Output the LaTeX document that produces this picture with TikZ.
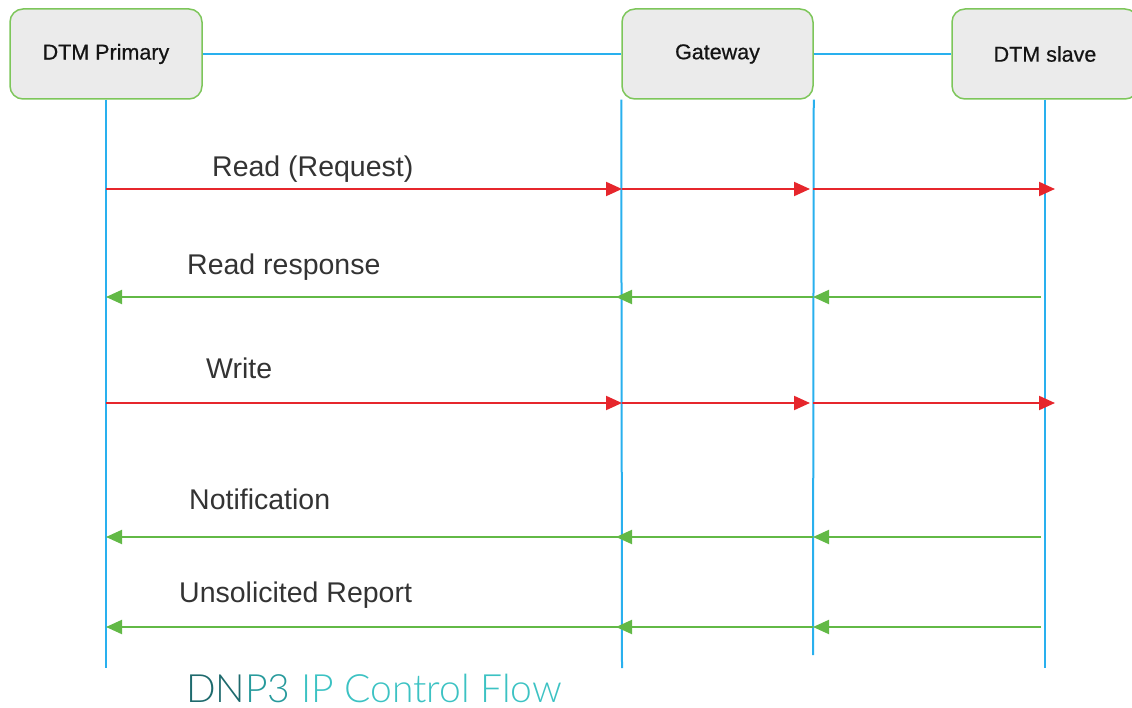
\documentclass[tikz,border=0pt]{standalone}
\usepackage{fontspec}
\setmainfont{Liberation Sans}
\newfontfamily\titlefont{Lato Light}
\newfontfamily\boxfont{Liberation Sans}[FakeBold=0.6]
\usetikzlibrary{arrows.meta}

\definecolor{lifeblue}{HTML}{29B0EE}
\definecolor{reqred}{HTML}{E6262C}
\definecolor{respgreen}{HTML}{62B946}
\definecolor{boxgreen}{HTML}{7DC65A}
\definecolor{boxfill}{HTML}{EBEBEB}
\definecolor{tealdark}{HTML}{1E6A6D}
\definecolor{tealmid}{HTML}{279A9C}
\definecolor{teallight}{HTML}{3CC2C3}

\tikzset{
  actor/.style={draw=boxgreen, line width=1.5pt, fill=boxfill, rounded corners=13pt,
    minimum height=90pt, inner sep=0pt, font=\boxfont\fontsize{21.5}{24}\selectfont, text=black!92},
  life/.style={draw=lifeblue, line width=2pt},
  req/.style={draw=reqred, line width=2pt, -{Triangle[length=16pt,width=14pt]}},
  resp/.style={draw=respgreen, line width=2pt, -{Triangle[length=16pt,width=14pt]}},
  msg/.style={anchor=base west, inner sep=0pt, font=\fontsize{28.5}{32}\selectfont, text=black!80},
}

\begin{document}
\begin{tikzpicture}[x=1pt, y=-1pt]
    \def\xp{106}
    \def\xg{622}
    \def\xh{813}
    \def\xs{1045}
\useasboundingbox (0,0) rectangle (1132,708);
% lifelines
\coordinate (pend) at (\xp,668);
\coordinate (gend) at (\xg,668);
\coordinate (hend) at (\xh,655);
\coordinate (send) at (\xs,668);
\node[actor, minimum width=192pt] (prim) at (\xp,54) {DTM Primary};
\node[actor, minimum width=191pt] (gate) at (717.5,54) {Gateway};
\node[actor, minimum width=186pt] (slave) at (\xs,54) {DTM slave};
\draw[life] (prim.south) -- (pend);
\draw[life] (gate.south west) -- (gend);
\draw[life] (gate.south east) -- (hend);
\draw[life] (slave.south) -- (send);
\draw[life] (prim.east) -- (gate.west);
\draw[life] (gate.east) -- (slave.west);
% message rows
\foreach \r/\y in {1/189,2/297,3/403,4/537,5/627} {
  \coordinate (p\r) at (\xp,\y);
  \coordinate (g\r) at (\xg,\y);
  \coordinate (h\r) at (\xh,\y);
  \coordinate (s\r) at (\xs,\y);
}
\foreach \r in {1,3} {
  \draw[req] (p\r) -- (g\r);
  \draw[req] (g\r) -- ([xshift=-3pt]h\r);
  \draw[req] (h\r) -- ([xshift=10pt]s\r);
}
\foreach \r in {2,4,5} {
  \draw[resp] (g\r) -- (p\r);
  \draw[resp] (h\r) -- ([xshift=-6pt]g\r);
  \draw[resp] ([xshift=-4pt]s\r) -- (h\r);
}
\node[msg] (lread) at (212,177) {Read (Request)};
\node[msg] (lresp) at (187,275) {Read response};
\node[msg] (lwrite) at (206,378) {Write};
\node[msg] (lnote) at (189,509) {Notification};
\node[msg] (lunsol) at (179,602) {Unsolicited Report};
\node[anchor=base west, inner sep=0pt, font=\titlefont\fontsize{39}{43}\selectfont] (title) at (186,702)
  {\textcolor{tealdark}{DN}\textcolor{tealmid}{P3} \textcolor{teallight}{IP Control Flow}};
\end{tikzpicture}
\end{document}
